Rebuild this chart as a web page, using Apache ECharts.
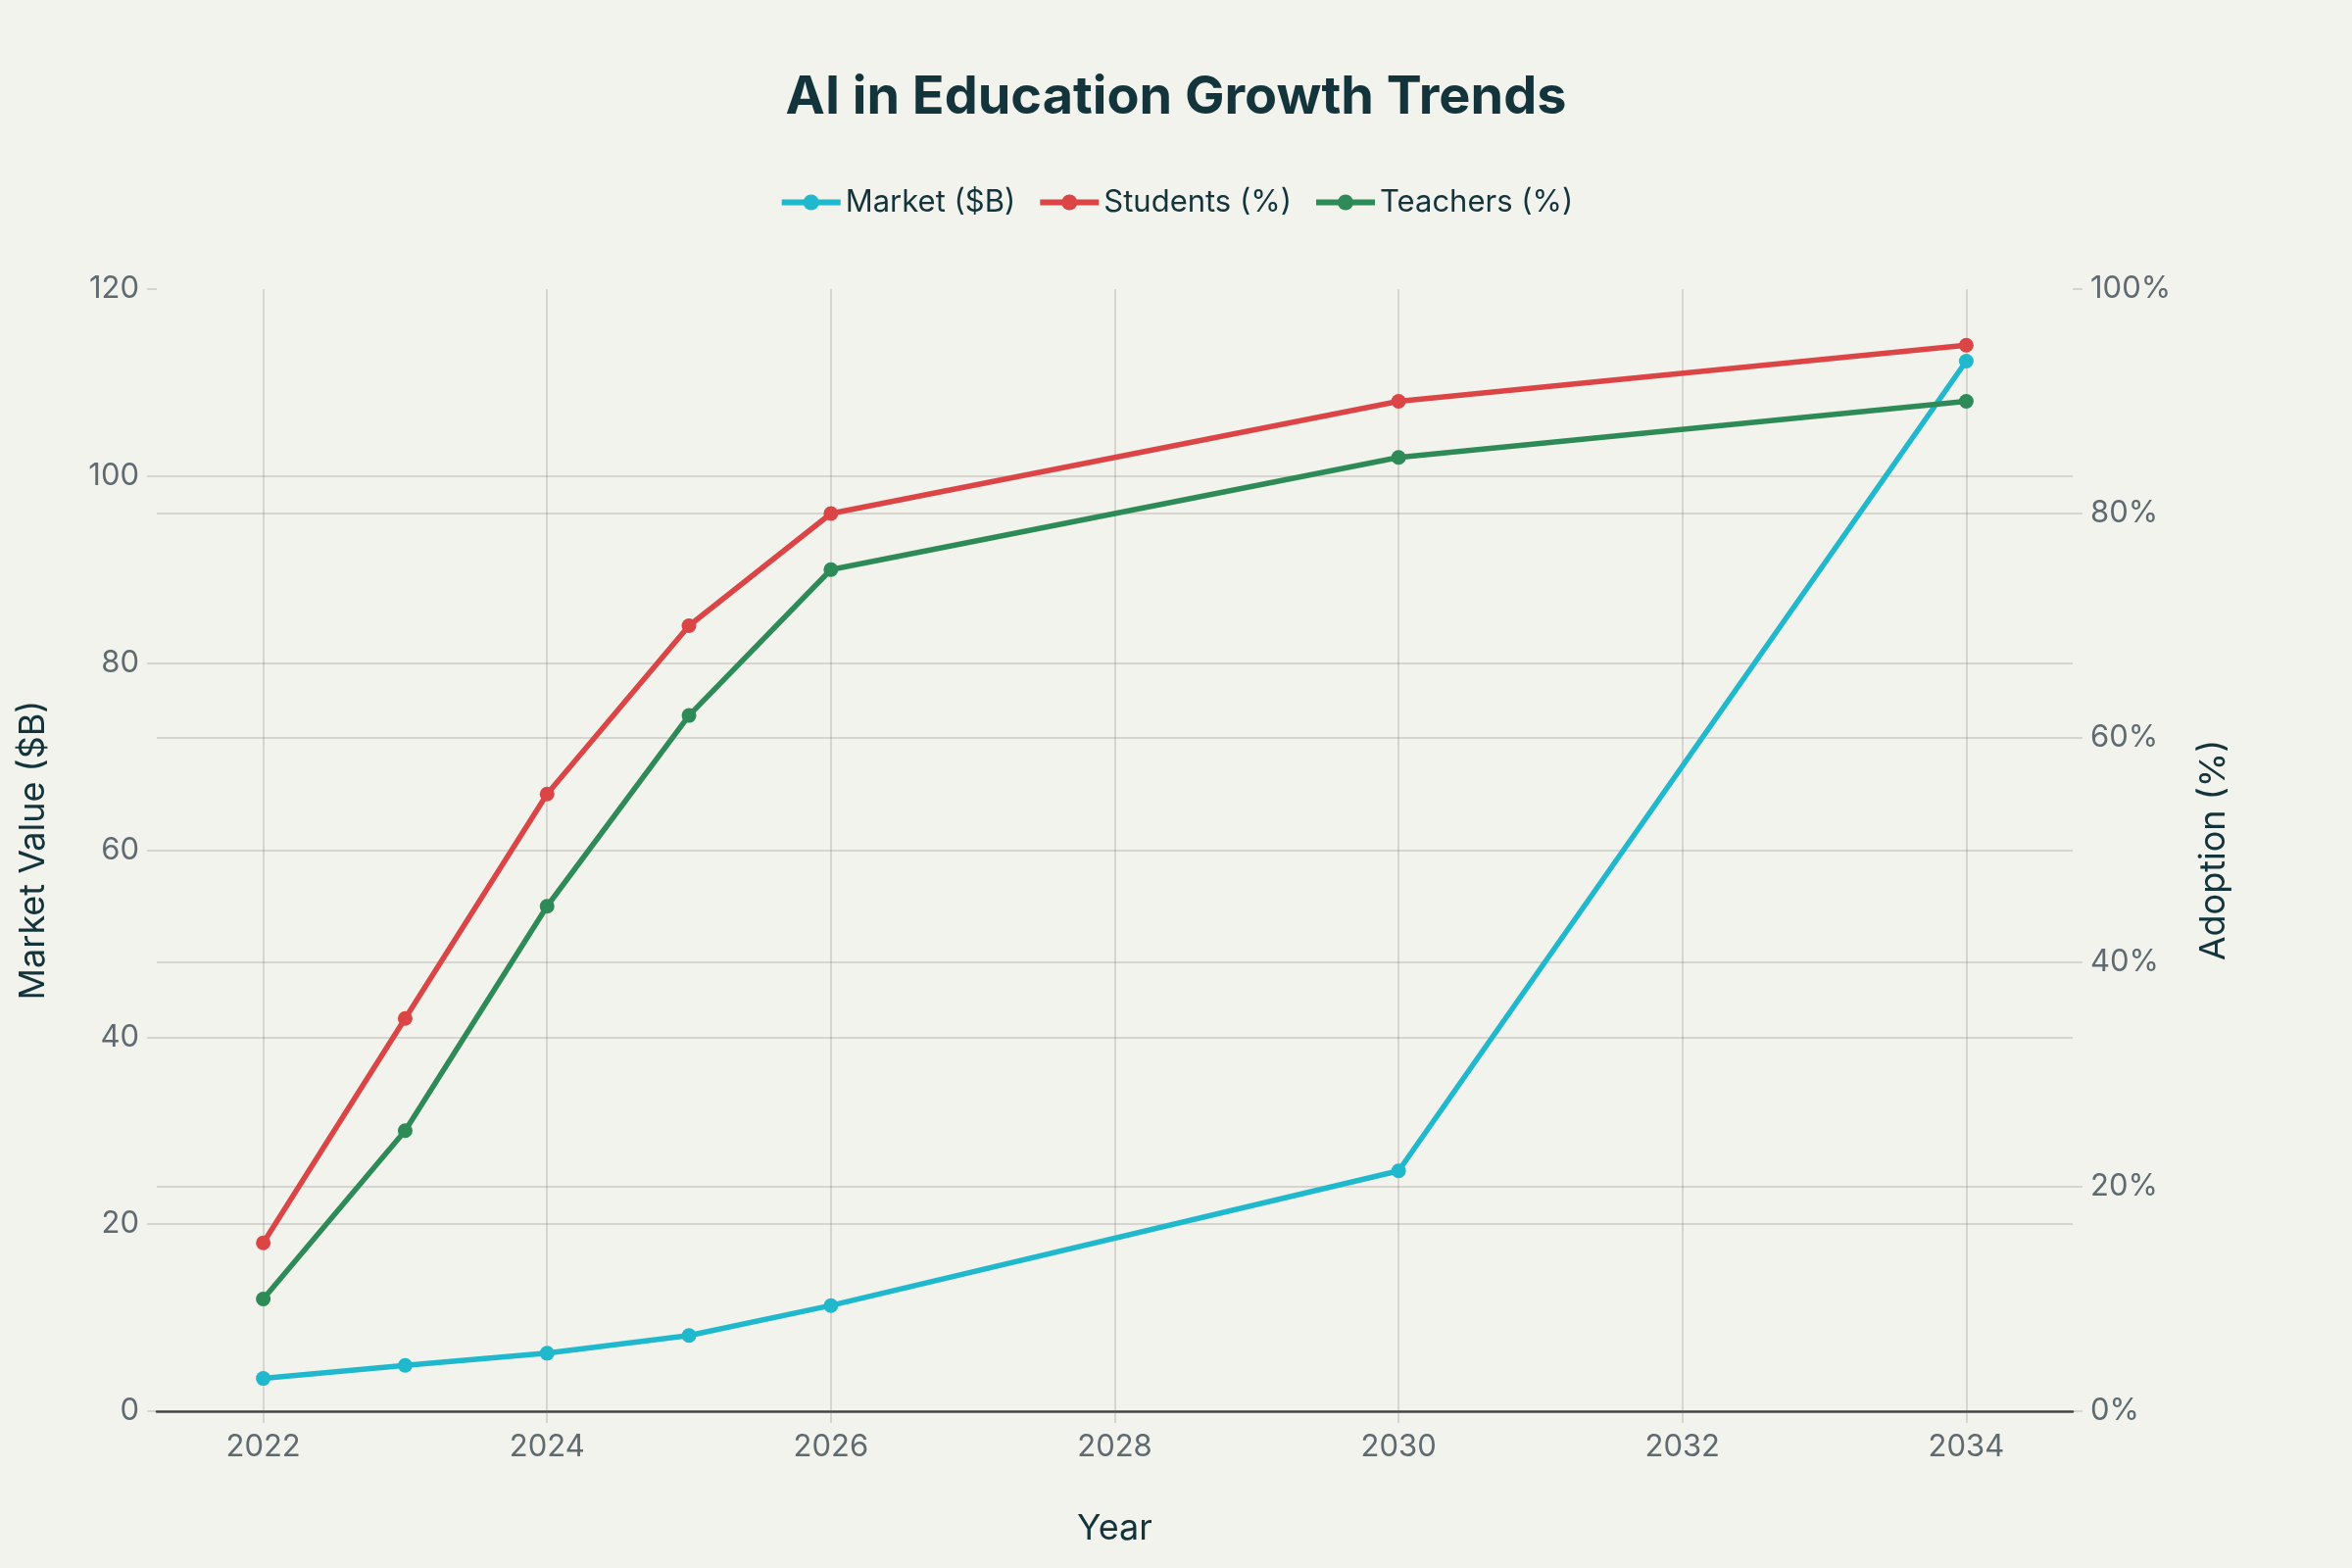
<!DOCTYPE html>
<html lang="en">
<head>
    <meta charset="UTF-8">
    <title>AI in Education Growth Trends</title>
    <script src="https://cdn.jsdelivr.net/npm/echarts@6/dist/echarts.min.js"></script>
    <style>
        body{
            margin: 0;
            background-color: #F3F3EE;
        }
        #chart{
            width: 2400px;
            height: 1600px;
        }
    </style>
</head>
<body>
    <div id="chart"></div>
    <script>
        // data
        var years = [2022, 2023, 2024, 2025, 2026, 2030, 2034];
        var market = [3.5, 4.9, 6.2, 8.1, 11.3, 25.7, 112.3];
        var students = [15, 35, 55, 70, 80, 90, 95];
        var teachers = [10, 25, 45, 62, 75, 85, 90];
        var yearTicks = [2022, 2024, 2026, 2028, 2030, 2032, 2034];

        var gridColor = 'rgba(120, 110, 100, 0.22)';
        var tickColor = '#5E6A70';
        var dark = '#13343B';
        var font = 'Inter';

        function pairs(vals){
            return years.map(function(y, i){ return [y, vals[i]]; });
        }

        function lineSeries(name, color, vals, yIdx){
            return {
                name: name,
                type: 'line',
                yAxisIndex: yIdx,
                data: pairs(vals),
                symbol: 'circle',
                symbolSize: 15,
                color: color,
                lineStyle: { width: 5.5, color: color },
                itemStyle: { color: color },
                emphasis: { disabled: true }
            };
        }

        var myChart = echarts.init(document.getElementById('chart'));
        var option = {
            backgroundColor: '#F3F3EE',
            animation: false,
            textStyle: { fontFamily: font },
            title: {
                text: 'AI in Education Growth Trends',
                left: 'center',
                top: 68,
                textStyle: {
                    fontFamily: font,
                    fontSize: 54,
                    fontWeight: 'bold',
                    color: dark
                }
            },
            legend: {
                top: 186,
                left: 'center',
                itemWidth: 60,
                itemHeight: 20,
                itemGap: 22,
                lineStyle: { width: 6 },
                textStyle: { fontFamily: font, fontSize: 31, color: dark },
                data: ['Market ($B)', 'Students (%)', 'Teachers (%)']
            },
            grid: {
                left: 160,
                right: 285,
                top: 295,
                bottom: 160,
                containLabel: false,
                outerBoundsMode: 'none'
            },
            xAxis: {
                type: 'value',
                min: 2021.25,
                max: 2034.75,
                name: 'Year',
                nameLocation: 'middle',
                nameGap: 102,
                nameTextStyle: { fontFamily: font, fontSize: 36, color: dark },
                axisLine: { show: true, onZero: false, lineStyle: { color: '#444', width: 2.5 } },
                axisTick: { show: true, length: 12, lineStyle: { color: gridColor, width: 2 }, customValues: yearTicks },
                axisLabel: {
                    fontFamily: font, fontSize: 31, color: tickColor, margin: 21,
                    customValues: yearTicks,
                    formatter: function(v){ return String(v); }
                },
                splitLine: { show: true, lineStyle: { color: gridColor, width: 2 } }
            },
            yAxis: [
                {
                    type: 'value',
                    position: 'left',
                    min: 0,
                    max: 120,
                    interval: 20,
                    name: 'Market Value ($B)',
                    nameLocation: 'middle',
                    nameGap: 108,
                    nameRotate: 90,
                    nameTextStyle: { fontFamily: font, fontSize: 36, color: dark },
                    axisLine: { show: false },
                    axisTick: { show: true, length: 10, lineStyle: { color: gridColor, width: 2 } },
                    axisLabel: { fontFamily: font, fontSize: 31, color: tickColor, margin: 18 },
                    splitLine: { show: true, showMaxLine: false, showMinLine: false, lineStyle: { color: gridColor, width: 2 } }
                },
                {
                    type: 'value',
                    position: 'right',
                    min: 0,
                    max: 100,
                    interval: 20,
                    name: 'Adoption (%)',
                    nameLocation: 'middle',
                    nameGap: 126,
                    nameRotate: 90,
                    nameTextStyle: { fontFamily: font, fontSize: 36, color: dark },
                    axisLine: { show: false },
                    axisTick: { show: true, length: 10, lineStyle: { color: gridColor, width: 2 } },
                    axisLabel: { fontFamily: font, fontSize: 31, color: tickColor, margin: 18, formatter: '{value}%' },
                    splitLine: { show: true, showMaxLine: false, showMinLine: false, lineStyle: { color: gridColor, width: 2 } }
                }
            ],
            series: [
                lineSeries('Market ($B)', '#1FB8CD', market, 0),
                lineSeries('Students (%)', '#DB4545', students, 1),
                lineSeries('Teachers (%)', '#2E8B57', teachers, 1)
            ]
        };

        myChart.setOption(option);
    </script>
</body>
</html>
